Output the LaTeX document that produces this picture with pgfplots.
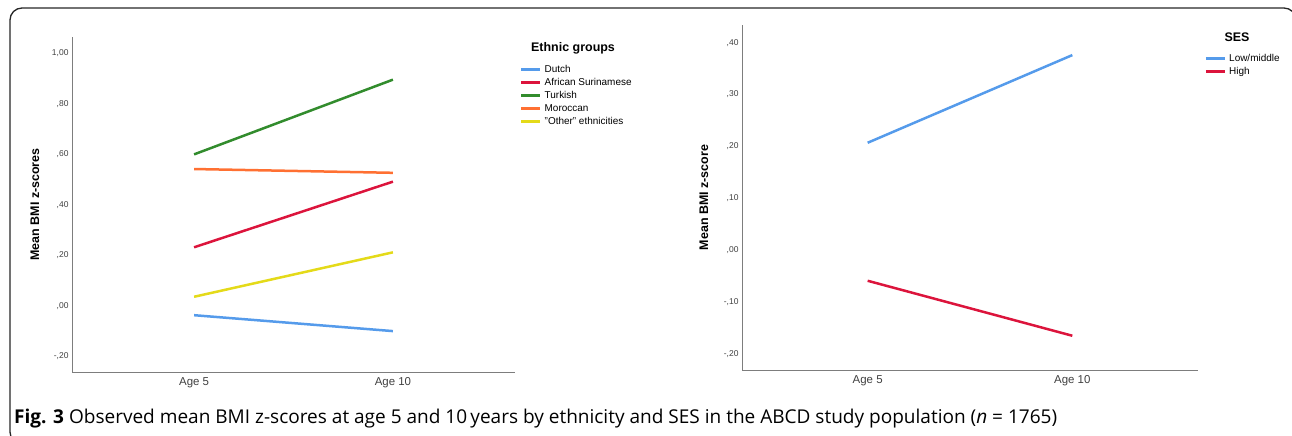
\documentclass[border=0pt]{standalone}
\usepackage{fontspec}
\setmainfont{Liberation Sans}
\newfontfamily\capfont{Open Sans}
\usepackage{pgfplots}
\pgfplotsset{compat=1.18}

\definecolor{cblue}{RGB}{85,155,235}
\definecolor{cred}{RGB}{220,20,60}
\definecolor{cgreen}{RGB}{50,140,45}
\definecolor{corange}{RGB}{255,112,50}
\definecolor{cyellow}{RGB}{228,218,25}
\definecolor{axgray}{RGB}{125,125,125}

\pgfplotsset{spss/.style={
  scale only axis,
  clip=false,
  axis x line*=bottom, axis y line*=left,
  axis line style={-, axgray, line width=0.9bp},
  xmin=-0.614, xmax=1.614,
  xtick={0,1}, xticklabels={Age 5, Age 10},
  major tick length=0pt,
  xticklabel style={font=\fontsize{11.5}{12}\selectfont, text=black!75, yshift=-2bp},
  yticklabel style={font=\fontsize{8.5}{9}\selectfont, text=black!75},
  every axis y label/.style={at={(axis description cs:-0.0835,0.5)}, rotate=90,
    anchor=center, font=\bfseries\fontsize{12.5}{14}\selectfont},
  legend cell align=left,
  legend style={draw=none, fill=none, font=\fontsize{10}{11}\selectfont,
    nodes={inner sep=0pt, text height=7.5bp, text depth=2.2bp},
    column sep=3bp, row sep=3.3bp, anchor=north west},
  legend image code/.code={\draw[#1, line width=2.5bp] (0bp,0bp) -- (19bp,0bp);},
  every axis plot/.append style={line width=2.5bp},
}}

\begin{document}
\begin{tikzpicture}
\useasboundingbox (0,0) rectangle (1292bp,436bp);
\draw[line width=1.3bp, black!85, rounded corners=12bp] (10bp,-8bp) rectangle (1296bp,428bp);

% left: ethnicity
\begin{axis}[spss,
  at={(72bp,64bp)}, anchor=south west,
  width=443bp, height=335bp,
  ymin=-0.262, ymax=1.065,
  ytick={-0.2,0,0.2,0.4,0.6,0.8,1.0},
  yticklabels={{-,20},{,00},{,20},{,40},{,60},{,80},{1,00}},
  ylabel={Mean BMI z-scores},
  legend style={at={(axis description cs:1.0045,0.924)}},
]
\addplot[cblue] coordinates {(0,-0.037) (1,-0.100)};
\addlegendentry{Dutch}
\addplot[cred] coordinates {(0,0.232) (1,0.492)};
\addlegendentry{African Surinamese}
\addplot[cgreen] coordinates {(0,0.600) (1,0.896)};
\addlegendentry{Turkish}
\addplot[corange] coordinates {(0,0.542) (1,0.527)};
\addlegendentry{Moroccan}
\addplot[cyellow] coordinates {(0,0.036) (1,0.212)};
\addlegendentry{"Other" ethnicities}
\node[font=\bfseries\fontsize{12.5}{14}\selectfont] at (axis description cs:1.131,0.967) {Ethnic groups};
\end{axis}

% right: SES
\begin{axis}[spss,
  at={(742bp,66bp)}, anchor=south west,
  width=456bp, height=345bp,
  ymin=-0.231, ymax=0.434,
  ytick={-0.2,-0.1,0,0.1,0.2,0.3,0.4},
  yticklabels={{-,20},{-,10},{,00},{,10},{,20},{,30},{,40}},
  ylabel={Mean BMI z-score},
  legend style={at={(axis description cs:1.0077,0.923)}},
]
\addplot[cblue] coordinates {(0,0.207) (1,0.376)};
\addlegendentry{Low/middle}
\addplot[cred] coordinates {(0,-0.059) (1,-0.165)};
\addlegendentry{High}
\node[font=\bfseries\fontsize{12.5}{14}\selectfont] at (axis description cs:1.0855,0.965) {SES};
\end{axis}

\node[anchor=base west, inner sep=0pt, font=\capfont\fontsize{19.1}{20}\selectfont]
  at (14bp,12.5bp) {\textbf{Fig. 3} Observed mean BMI z-scores at age 5 and 10\,years by ethnicity and SES in the ABCD study population (\textit{n} = 1765)};
\end{tikzpicture}
\end{document}
